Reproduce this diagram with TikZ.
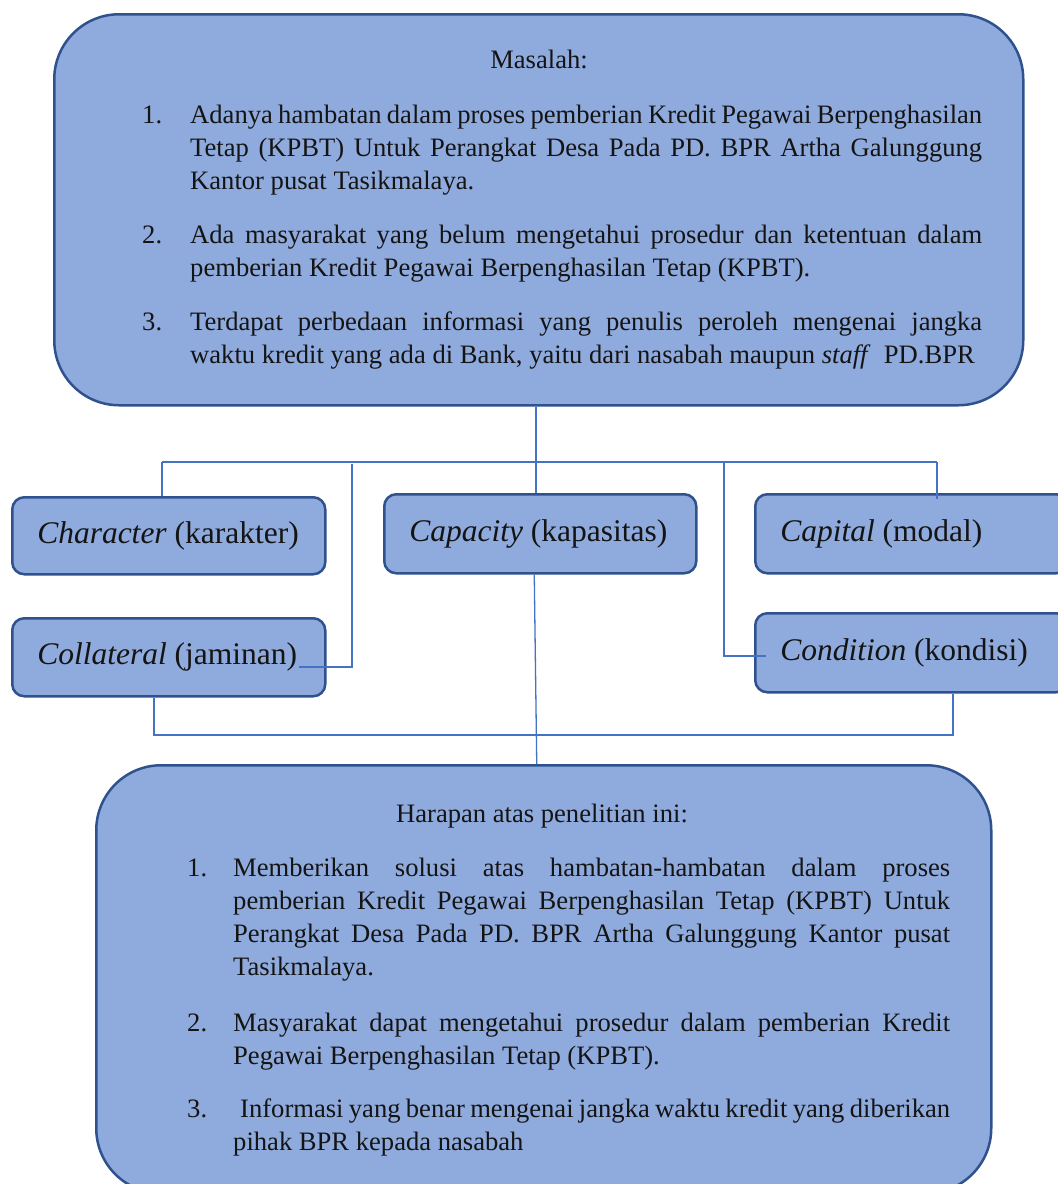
\documentclass[tikz,border=0pt]{standalone}
\usepackage{fontspec}
\setmainfont{Liberation Serif}
\definecolor{boxfill}{HTML}{8FAADC}
\definecolor{boxline}{HTML}{2F528F}
\definecolor{connc}{HTML}{4472C4}
\definecolor{textc}{HTML}{141414}
\newcommand{\jt}[1]{\hbox to 792pt{#1}}
\newcommand{\jb}[1]{\hbox to 717pt{#1}}
\newcommand{\lastl}[1]{\hbox{#1}}
\begin{document}
\begin{tikzpicture}[x=1pt,y=-1pt,
  bigbox/.style={draw=boxline, fill=boxfill, line width=2.5pt, rounded corners=65pt, anchor=north west, inner sep=0pt},
  smallbox/.style={draw=boxline, fill=boxfill, line width=2.5pt, rounded corners=12pt, anchor=north west, inner xsep=25pt, inner ysep=0pt, font=\fontsize{31.5}{36}\selectfont, text=textc, minimum width=313pt, minimum height=78pt},
  conn/.style={draw=connc, line width=1.3pt},
  txt/.style={anchor=base west, inner sep=0pt, font=\fontsize{26.6}{33}\selectfont, text=textc},
]
\useasboundingbox (0,0) rectangle (1058,1184);
\fill[white] (0,0) rectangle (1058,1184);

% big boxes
\node[bigbox, minimum width=969pt, minimum height=391pt] (top) at (53,13) {};
\node[bigbox, minimum width=895pt, minimum height=428pt] (bot) at (95,764) {};

% small boxes
\node[smallbox, minimum height=77pt] (char) at (11,496) {\makebox[263pt][l]{\textit{Character} (karakter)}};
\node[smallbox, minimum width=312pt, minimum height=79pt] (capa) at (383,493) {\makebox[262pt][l]{\textit{Capacity} (kapasitas)}};
\node[smallbox, minimum height=79pt] (capi) at (754,493) {\makebox[263pt][l]{\textit{Capital} (modal)}};
\node[smallbox] (coll) at (11,617) {\makebox[263pt][l]{\textit{Collateral} (jaminan)}};
\node[smallbox, minimum height=79pt] (cond) at (754,612) {\makebox[263pt][l]{\textit{Condition} (kondisi)}};

% connectors
\coordinate (mid) at (536,462);
\coordinate (busL) at (162,462);
\coordinate (busR) at (937,462);
\coordinate (collJ) at (352,464);
\coordinate (collEnd) at (299,667);
\coordinate (condJ) at (724,462);
\coordinate (condEnd) at (766,656);
\coordinate (bbL) at (154,735);
\coordinate (bbR) at (953,735);
\draw[conn] (top.south -| mid) -- (capa.north -| mid);
\draw[conn] (busL) -- (busR);
\draw[conn] (busL) -- (busL |- char.north);
\draw[conn] (busR) -- ([yshift=-6pt]busR |- capi.north);
\draw[conn] (collJ) |- (collEnd);
\draw[conn] (condJ) |- (condEnd);
\draw[conn] (bbL |- coll.south) -- (bbL) -- (bbR) -- (bbR |- cond.south);
\draw[conn] ([xshift=-6pt]capa.south) -- ([xshift=-7pt]bot.north);

% top text
\node[txt, anchor=base] (mtitle) at (539,68) {Masalah:};
\node[txt] (mn1) at (142,123) {1.};
\node[txt] (mt1) at (190,123) {\vtop{%
  \jt{Adanya hambatan dalam proses pemberian Kredit Pegawai Berpenghasilan}
  \jt{Tetap (KPBT) Untuk Perangkat Desa Pada PD. BPR Artha Galunggung}
  \lastl{Kantor pusat Tasikmalaya.}}};
\node[txt] (mn2) at (142,243) {2.};
\node[txt] (mt2) at (190,243) {\vtop{%
  \jt{Ada masyarakat yang belum mengetahui prosedur dan ketentuan dalam}
  \lastl{pemberian Kredit Pegawai Berpenghasilan Tetap (KPBT).}}};
\node[txt] (mn3) at (142,330) {3.};
\node[txt] (mt3) at (190,330) {\vtop{%
  \jt{Terdapat perbedaan informasi yang penulis peroleh mengenai jangka}
  \lastl{waktu kredit yang ada di Bank, yaitu dari nasabah maupun \textit{staff}\ \ PD.BPR}}};

% bottom text
\node[txt, anchor=base] (htitle) at (542,822) {Harapan atas penelitian ini:};
\node[txt] (hn1) at (187,876) {1.};
\node[txt] (ht1) at (233,876) {\vtop{%
  \jb{Memberikan solusi atas hambatan-hambatan dalam proses}
  \jb{pemberian Kredit Pegawai Berpenghasilan Tetap (KPBT) Untuk}
  \jb{Perangkat Desa Pada PD. BPR Artha Galunggung Kantor pusat}
  \lastl{Tasikmalaya.}}};
\node[txt] (hn2) at (187,1031) {2.};
\node[txt] (ht2) at (233,1031) {\vtop{%
  \jb{Masyarakat dapat mengetahui prosedur dalam pemberian Kredit}
  \lastl{Pegawai Berpenghasilan Tetap (KPBT).}}};
\node[txt] (hn3) at (187,1117) {3.};
\node[txt] (ht3) at (233,1117) {\vtop{%
  \jb{\kern7pt Informasi yang benar mengenai jangka waktu kredit yang diberikan}
  \lastl{pihak BPR kepada nasabah}}};
\end{tikzpicture}
\end{document}
